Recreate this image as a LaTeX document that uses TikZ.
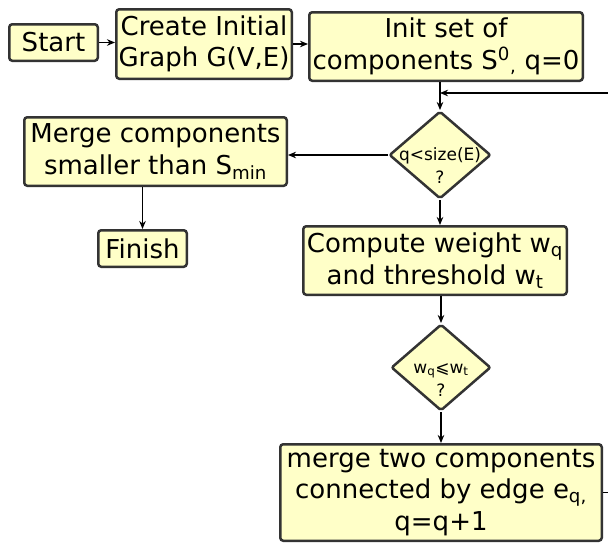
\documentclass[tikz,border=0pt]{standalone}
\usepackage{fontspec}
\setmainfont{DejaVu Sans}
\usetikzlibrary{shapes.geometric,arrows.meta}
\definecolor{boxfill}{RGB}{255,255,200}
\definecolor{boxline}{RGB}{51,51,51}
\newcommand\dtext[1]{\smash{\raisebox{-17pt}{\makebox[0pt]{\begin{tabular}{@{}c@{}}#1\end{tabular}}}}}
\begin{document}
\begin{tikzpicture}[x=1pt,y=-1pt,
  box/.style={draw=boxline, fill=boxfill, line width=2.5pt, rounded corners=3pt,
    inner sep=0pt, align=center, font=\fontsize{26}{31.5}\selectfont},
  dec/.style={diamond, draw=boxline, fill=boxfill, line width=2.5pt, rounded corners=2pt,
    inner sep=0pt, font=\fontsize{17}{23}\selectfont},
  arr/.style={-{Stealth[length=8pt,width=6.5pt,inset=2.5pt]}, line width=1.3pt, black}]
\useasboundingbox (0,0) rectangle (608,544);
\clip (0,0) rectangle (608,544);
\node[box, minimum width=88.5pt, minimum height=36.5pt] (start) at (53.5,42.5) {Start};
\node[box, minimum width=175.5pt, minimum height=69.5pt] (create) at (204,44) {Create Initial\\Graph G(V,E)};
\node[box, minimum width=273.5pt, minimum height=68.5pt] (init) at (446,46.5) {Init set of\\components S\textsuperscript{0}\textsubscript{,} q=0};
\node[dec, minimum width=101.5pt, minimum height=87.5pt] (dia1) at (440,155) {\dtext{q<size(E)\\?}};
\node[box, minimum width=262.5pt, minimum height=68.5pt] (merge) at (155.5,151.5) {Merge components\\smaller than S\textsubscript{min}};
\node[box, minimum width=88.5pt, minimum height=36.5pt] (finish) at (142.5,248.5) {Finish};
\node[box, minimum width=263.5pt, minimum height=68.5pt] (compute) at (435,260.5) {Compute weight w\textsubscript{q}\\and threshold w\textsubscript{t}};
\node[dec, minimum width=99.5pt, minimum height=86.5pt] (dia2) at (441,367.5) {\dtext{w\textsubscript{q}⩽w\textsubscript{t}\\?}};
\node[box, minimum width=321.5pt, minimum height=96.5pt] (merge2) at (441,492.5) {merge two components\\connected by edge e\textsubscript{q,}\\q=q+1};
\coordinate (loopin) at (440,93);
\coordinate (loopout) at (650,492.5);
\draw[arr] (start.east) -- (start.east -| create.west);
\draw[arr] (create.east) -- (create.east -| init.west);
\draw[arr] (dia1.north |- init.south) -- (dia1.north);
\draw[arr] (dia1.west) -- (dia1.west -| merge.east);
\draw[arr] (finish.north |- merge.south) -- (finish.north);
\draw[arr] (dia1.south) -- (dia1.south |- compute.north);
\draw[arr] (dia2.north |- compute.south) -- (dia2.north);
\draw[arr] (dia2.south) -- (dia2.south |- merge2.north);
\draw[arr] (merge2.east) -- (loopout) |- (loopin);
\end{tikzpicture}
\end{document}
